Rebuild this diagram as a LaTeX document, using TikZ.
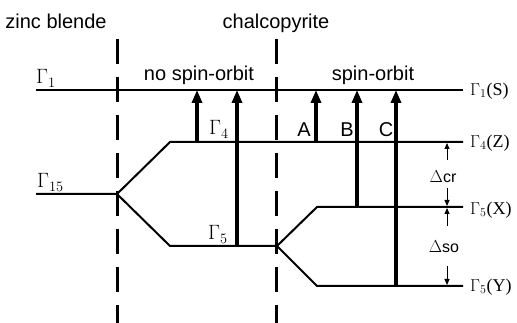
\documentclass[tikz,border=0pt]{standalone}
\usepackage{fontspec}
\setmainfont{Liberation Serif}
\setsansfont{Liberation Sans}
\usetikzlibrary{arrows.meta}
\begin{document}
\begin{tikzpicture}[x=1pt,y=-1pt,
  level/.style={line width=2pt},
  trans/.style={line width=3.2pt,-{Triangle[length=13pt,width=10pt]}},
  dimarrow/.style={line width=1pt,-{Triangle[length=6pt,width=5pt]}},
  divider/.style={line width=3pt,dash pattern=on 25pt off 13pt},
  sanslbl/.style={font=\fontsize{20}{20}\sffamily\selectfont,inner sep=0pt},
  gam/.style={font=\fontsize{19.5}{19.5}\selectfont,inner sep=0pt},
  rgam/.style={font=\fontsize{18}{18}\selectfont,inner sep=0pt},
  smalllbl/.style={font=\fontsize{16}{16}\sffamily\selectfont,inner sep=0pt}]
\useasboundingbox (0,0) rectangle (517,323);
% dividers
\coordinate (d1t) at (117,39); \coordinate (d1b) at (117,323);
\coordinate (d2t) at (276,39); \coordinate (d2b) at (276,323);
\draw[divider] (d1t) -- (d1b);
\draw[divider] (d2t) -- (d2b);
% levels
\coordinate (g1l) at (36,90);  \coordinate (g1r) at (463,90);
\coordinate (g15l) at (36,194); \coordinate (g15r) at (117,194);
\coordinate (g4a) at (170,142); \coordinate (g4r) at (463,142);
\coordinate (g5a) at (170,246); \coordinate (g5b) at (277,246);
\coordinate (xa) at (317,207);  \coordinate (xr) at (463,207);
\coordinate (ya) at (317,286);  \coordinate (yr) at (463,286);
\draw[level] (g1l) -- (g1r);
\draw[level] (g15l) -- (g15r) -- (g4a) -- (g4r);
\draw[level] (g15r) -- (g5a) -- (g5b) -- (xa) -- (xr);
\draw[level] (g5b) -- (ya) -- (yr);
% transitions
\coordinate (t1s) at (197,142); \coordinate (t1e) at (197,90);
\coordinate (t2s) at (237,246); \coordinate (t2e) at (237,90);
\coordinate (ts) at (316,142);  \coordinate (te) at (316,90);
\coordinate (bs) at (357,207);  \coordinate (be) at (357,90);
\coordinate (cs) at (396,286);  \coordinate (ce) at (396,90);
\draw[trans] (t1s) -- (t1e);
\draw[trans] (t2s) -- (t2e);
\draw[trans] (ts) -- (te);
\draw[trans] (bs) -- (be);
\draw[trans] (cs) -- (ce);
% splitting arrows
\coordinate (cr1s) at (447,160); \coordinate (cr1e) at (447,143);
\coordinate (cr2s) at (447,188); \coordinate (cr2e) at (447,206);
\coordinate (so1s) at (447,226); \coordinate (so1e) at (447,208);
\coordinate (so2s) at (447,266); \coordinate (so2e) at (447,285);
\draw[dimarrow] (cr1s) -- (cr1e);
\draw[dimarrow] (cr2s) -- (cr2e);
\draw[dimarrow] (so1s) -- (so1e);
\draw[dimarrow] (so2s) -- (so2e);
% labels
\node[sanslbl,anchor=base] (zb) at (56,29) {zinc blende};
\node[sanslbl,anchor=base] (ch) at (276,29) {chalcopyrite};
\node[sanslbl,anchor=base] (nso) at (199,81) {no spin-orbit};
\node[sanslbl,anchor=base] (so) at (373,81) {spin-orbit};
\node[gam,anchor=base west] (lg1) at (36,84) {$\Gamma_1$};
\node[gam,anchor=base west] (lg15) at (37,188) {$\Gamma_{15}$};
\node[gam,anchor=base west] (mg4) at (209,135) {$\Gamma_4$};
\node[gam,anchor=base west] (mg5) at (208,240) {$\Gamma_5$};
\node[sanslbl,anchor=base] (la) at (304,137) {A};
\node[sanslbl,anchor=base] (lb) at (347,137) {B};
\node[sanslbl,anchor=base] (lc) at (386,137) {C};
\node[rgam,anchor=west] (r1) at (470,91) {$\Gamma_1$(S)};
\node[rgam,anchor=west] (r4) at (470,143) {$\Gamma_4$(Z)};
\node[rgam,anchor=west] (r5x) at (470,210) {$\Gamma_5$(X)};
\node[rgam,anchor=west] (r5y) at (470,287) {$\Gamma_5$(Y)};
\node[smalllbl] (dcr) at (443,177) {$\Delta$cr};
\node[smalllbl] (dso) at (444,247) {$\Delta$so};
\end{tikzpicture}
\end{document}
